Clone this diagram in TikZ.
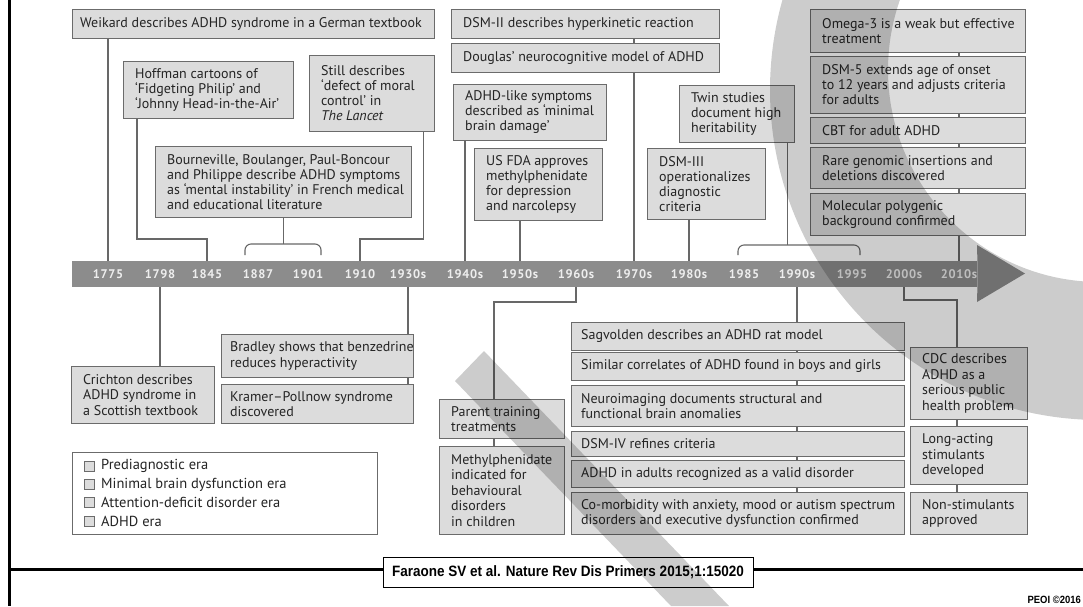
\documentclass[tikz,border=0pt]{standalone}
\usepackage{fontspec}
\setmainfont{PT Sans}
\newfontfamily\tickfont[LetterSpace=5]{PT Sans}
\newfontfamily\citefont[FakeStretch=0.9]{Liberation Sans}
\usetikzlibrary{calc}
\definecolor{boxfill}{HTML}{DCDCDC}
\definecolor{boxline}{HTML}{6B6B6B}
\definecolor{txt}{HTML}{242424}
\definecolor{barc}{HTML}{8C8C8C}
\definecolor{tickc}{HTML}{EEEEEE}
\definecolor{connc}{HTML}{686868}
\newcommand\evpad{12pt}
% event box: [text style]{name}{top-left x,y}{width}{height}{text}
\newcommand\evbox[6][evtxt]{%
  \node[evb,minimum width=#4pt,minimum height=#5pt] (#2) at (#3) {};
  \node[#1] (#2-t) at ([xshift=\evpad]#2.west) {#6};}
\begin{document}
\begin{tikzpicture}[x=1pt,y=-1pt,
  evb/.style={draw=boxline,fill=boxfill,line width=0.9pt,inner sep=0pt,anchor=north west},
  evtxt/.style={anchor=west,inner sep=0pt,align=left,text=txt,font=\fontsize{14}{15}\selectfont},
  evl/.style={evtxt,font=\fontsize{14}{15.5}\selectfont},
  conn/.style={draw=connc,line width=1.1pt},
  tick/.style={text=tickc,font=\tickfont\bfseries\fontsize{12.5}{12.5}\selectfont,inner sep=0pt},
  legsq/.style={draw=boxline,fill=boxfill,line width=0.8pt,minimum size=10pt,inner sep=0pt},
  legtx/.style={anchor=west,inner sep=0pt,text=txt,font=\fontsize{14.5}{15}\selectfont},
  wmark/.style={fill=black,fill opacity=0.2,even odd rule}]
\useasboundingbox (0,0) rectangle (1083,606);
\fill[white] (0,0) rectangle (1083,606);

% frame lines
\draw[black,line width=3pt] (9.5,0) -- (9.5,606);
\draw[black,line width=3pt] (9.5,569.5) -- (1083,569.5);

% time axis
\node[fill=barc,minimum width=905pt,minimum height=26pt,inner sep=0pt,anchor=north west] (bar) at (72,261) {};
\fill[barc] (bar.north east) -- (977,245) -- (1025,273.5) -- (977,302) -- (bar.south east) -- cycle;
\foreach \nm/\xx/\lb in {1775/108/1775,1798/160/1798,1845/207/1845,1887/258/1887,1901/308/1901,
  1910/360/1910,1930/408/1930s,1940/465/1940s,1950/520/1950s,1960/576/1960s,1970/634/1970s,
  1980/689/1980s,1985/744/1985,1990/797/1990s,1995/852/1995,2000/904/2000s,2010/959/2010s}
  \node[tick] (l\nm) at (\xx,274) {\lb};

% events above the axis
{\renewcommand\evpad{8pt}
\evbox{weikard}{72,9}{362}{29}{Weikard describes ADHD syndrome in a German textbook}}
\evbox{hoffman}{123,61}{170}{57}{Hoffman cartoons of\\‘Fidgeting Philip’ and\\‘Johnny Head-in-the-Air’}
\evbox{still}{309,55}{125}{76}{Still describes\\‘defect of moral\\control’ in\\\textit{The Lancet}}
\evbox{bourn}{155,146}{256}{71}{Bourneville, Boulanger, Paul-Boncour\\and Philippe describe ADHD symptoms\\as ‘mental instability’ in French medical\\and educational literature}
\evbox{dsm2}{451,9}{268}{29}{DSM-II describes hyperkinetic reaction}
\evbox{douglas}{451,43}{268}{29}{Douglas’ neurocognitive model of ADHD}
\evbox{adhdlike}{453,84}{153}{56}{ADHD-like symptoms\\described as ‘minimal\\brain damage’}
\evbox{fda}{474,148}{128}{72}{US FDA approves\\methylphenidate\\for depression\\and narcolepsy}
\evbox{twin}{679,85}{115}{57}{Twin studies\\document high\\heritability}
\evbox{dsm3}{647,148}{118}{71}{DSM-III\\operationalizes\\diagnostic\\criteria}
\evbox{omega}{810,9}{215}{43}{Omega-3 is a weak but effective\\treatment}
\evbox{dsm5}{810,56}{215}{57}{DSM-5 extends age of onset\\to 12 years and adjusts criteria\\for adults}
\evbox{cbt}{810,117}{215}{26}{CBT for adult ADHD}
\evbox{rare}{810,147}{215}{41}{Rare genomic insertions and\\deletions discovered}
\evbox{molec}{810,193}{215}{42}{Molecular polygenic\\background confirmed}

% events below the axis
\evbox[evl]{crichton}{71,366}{143}{57}{Crichton describes\\ADHD syndrome in\\a Scottish textbook}
{\renewcommand\evpad{9pt}
\evbox[evl]{bradley}{221,334}{192}{43}{Bradley shows that benzedrine\\reduces hyperactivity}
\evbox[evl]{kramer}{221,384}{192}{39}{Kramer–Pollnow syndrome\\discovered}}
\evbox[evl]{parent}{439,399}{125}{39}{Parent training\\treatments}
\evbox[evl]{methyl}{439,446}{125}{88}{Methylphenidate\\indicated for\\behavioural\\disorders\\in children}
{\renewcommand\evpad{10pt}
\evbox[evl]{sagv}{571,322}{333}{28}{Sagvolden describes an ADHD rat model}
\evbox[evl]{similar}{571,352}{333}{28}{Similar correlates of ADHD found in boys and girls}
\evbox[evl]{neuro}{571,385}{333}{41}{Neuroimaging documents structural and\\functional brain anomalies}
\evbox[evl]{dsm4}{571,431}{333}{25}{DSM-IV refines criteria}
\evbox[evl]{adults}{571,460}{333}{27}{ADHD in adults recognized as a valid disorder}
\evbox[evl]{comorb}{571,492}{333}{42}{Co-morbidity with anxiety, mood or autism spectrum\\disorders and executive dysfunction confirmed}}
\evbox[evl]{cdc}{910,347}{117}{72}{CDC describes\\ADHD as a\\serious public\\health problem}
\evbox[evl]{longact}{910,426}{117}{58}{Long-acting\\stimulants\\developed}
\evbox[evl]{nonstim}{910,492}{117}{42}{Non-stimulants\\approved}

% elbow levels
\coordinate (hk) at (0,239);
\coordinate (pk) at (0,302);
\coordinate (ck) at (0,300);

% connectors above the axis
\draw[conn] (weikard.south -| l1775) -- (l1775 |- bar.north);
\draw[conn] ([xshift=14pt]hoffman.south west) |- (l1845 |- hk) -- (l1845 |- bar.north);
\draw[conn] ([xshift=-11pt]still.south east) |- (l1910 |- hk) -- (l1910 |- bar.north);
\draw[conn] (bourn.south) -- (bourn.south |- 0,244);
\draw[conn,rounded corners=6pt] (245,255) -- (245,244) -- (321,244) -- (321,255);
\draw[conn] (dsm2.south -| l1970) -- (douglas.north -| l1970);
\draw[conn] (douglas.south -| l1970) -- (l1970 |- bar.north);
\draw[conn] (adhdlike.south -| l1940) -- (l1940 |- bar.north);
\draw[conn] (fda.south -| l1950) -- (l1950 |- bar.north);
\draw[conn] ([xshift=-7pt]twin.south east) -- ([xshift=-7pt]twin.south east |- 0,245);
\draw[conn,rounded corners=6pt] (738,255) -- (738,245) -- (860,245) -- (860,255);
\draw[conn] (dsm3.south -| l1980) -- (l1980 |- bar.north);
\draw[conn] (omega.south -| l2010) -- (dsm5.north -| l2010);
\draw[conn] (dsm5.south -| l2010) -- (cbt.north -| l2010);
\draw[conn] (cbt.south -| l2010) -- (rare.north -| l2010);
\draw[conn] (rare.south -| l2010) -- (molec.north -| l2010);
\draw[conn] (molec.south -| l2010) -- (l2010 |- bar.north);

% connectors below the axis
\draw[conn] (l1798 |- bar.south) -- (l1798 |- crichton.north);
\draw[conn] (l1930 |- bar.south) -- (l1930 |- bradley.north);
\draw[conn] (bradley.south -| l1930) -- (kramer.north -| l1930);
\draw[conn] (l1960 |- bar.south) |- ([xshift=55pt]parent.north west |- pk) -- ([xshift=55pt]parent.north west);
\draw[conn] ([xshift=55pt]parent.south west) -- ([xshift=55pt]methyl.north west);
\draw[conn] (l1990 |- bar.south) -- (l1990 |- sagv.north);
\draw[conn] (sagv.south -| l1990) -- (similar.north -| l1990);
\draw[conn] (similar.south -| l1990) -- (neuro.north -| l1990);
\draw[conn] (neuro.south -| l1990) -- (dsm4.north -| l1990);
\draw[conn] (dsm4.south -| l1990) -- (adults.north -| l1990);
\draw[conn] (adults.south -| l1990) -- (comorb.north -| l1990);
\draw[conn] (l2000 |- bar.south) |- ([xshift=47pt]cdc.north west |- ck) -- ([xshift=47pt]cdc.north west);
\draw[conn] ([xshift=47pt]cdc.south west) -- ([xshift=47pt]longact.north west);
\draw[conn] ([xshift=47pt]longact.south west) -- ([xshift=47pt]nonstim.north west);

% legend
\node[draw=boxline,fill=white,line width=0.9pt,minimum width=305pt,minimum height=82pt,anchor=north west,inner sep=0pt] (legend) at (72,452) {};
\node[legsq] (sq1) at (89.5,466) {};
\node[legsq] (sq2) at (89.5,484.5) {};
\node[legsq] (sq3) at (89.5,502.5) {};
\node[legsq] (sq4) at (89.5,521) {};
\node[legtx] (lg1) at (101,466) {Prediagnostic era};
\node[legtx] (lg2) at (101,484.5) {Minimal brain dysfunction era};
\node[legtx] (lg3) at (101,502.5) {Attention-deficit disorder era};
\node[legtx] (lg4) at (101,521) {ADHD era};

% reference
\node[draw=black,fill=white,line width=0.8pt,minimum width=370pt,minimum height=30pt,inner sep=0pt] (cite) at (568,572)
  {\citefont\bfseries\fontsize{15}{15}\selectfont Faraone SV et al. Nature Rev Dis Primers 2015;1:15020};
\node[anchor=base east,inner sep=0pt,font=\citefont\bfseries\fontsize{10.5}{10.5}\selectfont] (peoi) at (1081,603) {PEOI ©2016};

% translucent overlay marks: a diagonal stroke and a large arc
\begin{scope}
\clip (0,0) rectangle (1083,606);
\fill[wmark] (455,381) -- (484,351) -- (729,606) -- (671,606) -- cycle;
\fill[wmark] (1100,90) circle[radius=330] (1100,70) circle[radius=212];
\end{scope}
\end{tikzpicture}
\end{document}
